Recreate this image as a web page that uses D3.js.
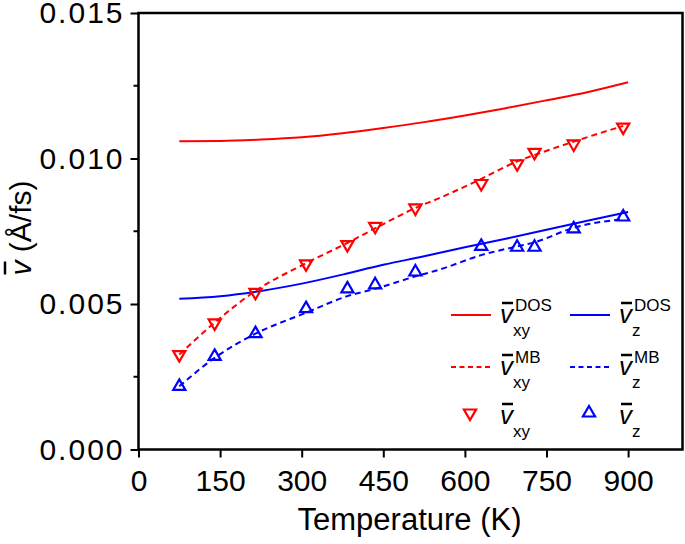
<!DOCTYPE html>
<html>
<head>
	<meta charset="utf-8">
	<title>velocity vs temperature</title>
	<script src="https://d3js.org/d3.v7.min.js"></script>
	<style>
		body { margin: 0; background: #fff; }
		text { font-family: 'Liberation Sans', Arial, sans-serif; }
	</style>
</head>
<body>
	<div class="chart"></div>

	<script type="text/javascript">
		// 模拟点（三角形）
		const ptTemps = [75, 140, 215, 308, 384, 435, 509, 630, 696, 728, 800, 891]
		const vxyPts = [0.00326, 0.00435, 0.00540, 0.00638, 0.00704, 0.00767, 0.00830, 0.00914, 0.00982, 0.01021, 0.01050, 0.01108]
		const vzPts = [0.00217, 0.00320, 0.00398, 0.00484, 0.00552, 0.00566, 0.00610, 0.00698, 0.00695, 0.00695, 0.00758, 0.00799]

		// DOS 曲线（实线）
		const dosTemps = [75, 150, 225, 300, 375, 450, 525, 600, 675, 750, 825, 900]
		const vxyDos = [0.01059, 0.01060, 0.01065, 0.01073, 0.01087, 0.01105, 0.01125, 0.01148, 0.01173, 0.01200, 0.01228, 0.01262]
		const vzDos = [0.00518, 0.00527, 0.00545, 0.00570, 0.00601, 0.00635, 0.00664, 0.00695, 0.00724, 0.00755, 0.00786, 0.00816]

		// MB 曲线（虚线）
		const mbTemps = [75, 140, 215, 308, 384, 435, 509, 553, 630, 696, 728, 800, 891]
		const vxyMb = [0.00326, 0.00436, 0.00545, 0.00640, 0.00710, 0.00760, 0.00830, 0.00864, 0.00930, 0.00990, 0.01012, 0.01058, 0.01112]
		const vzMb = [0.00217, 0.00315, 0.00398, 0.00470, 0.00527, 0.00552, 0.00595, 0.00618, 0.00668, 0.00698, 0.00712, 0.00762, 0.00792]

		const xTicks = [0, 150, 300, 450, 600, 750, 900]
		const yTicks = [0, 0.005, 0.010, 0.015]
		const yMinor = [0.0025, 0.0075, 0.0125]

		var width = 685
		var height = 544
		var pLeft = 138.5, pRight = 682.5, pTop = 13, pBottom = 449.5

		var svg = d3
			.select('.chart')
			.append('svg')
			.attr('width', width)
			.attr('height', height)

		const x = d3.scaleLinear().domain([0, 1000]).range([pLeft, pRight])
		const y = d3.scaleLinear().domain([0, 0.015]).range([pBottom, pTop])

		const red = '#ff0000'
		const blue = '#0000ff'

		/**
		 * 坐标轴
		 */
		const xAxis = svg.append('g')
			.attr('transform', `translate(0, ${pBottom})`)
			.call(d3.axisBottom(x).tickValues(xTicks).tickSize(8).tickPadding(12).tickSizeOuter(0))
		const yAxis = svg.append('g')
			.attr('transform', `translate(${pLeft}, 0)`)
			.call(d3.axisLeft(y).tickValues(yTicks).tickFormat(d3.format('.3f')).tickSize(8).tickPadding(8).tickSizeOuter(0))

		svg.append('g')
			.selectAll('line')
			.data(yMinor)
			.join('line')
			.attr('x1', pLeft - 5)
			.attr('x2', pLeft)
			.attr('y1', (d) => y(d))
			.attr('y2', (d) => y(d))
			.attr('stroke', '#000')
			.attr('stroke-width', 2)

		;[xAxis, yAxis].forEach((g) => {
			g.select('.domain').remove()
			g.selectAll('.tick line').attr('stroke', '#000').attr('stroke-width', 2)
			g.selectAll('.tick text')
				.attr('fill', '#000')
				.style('font-size', '30px')
				.style('font-family', "'Liberation Sans', Arial, sans-serif")
		})
		// y 轴刻度文字略宽
		yAxis.selectAll('.tick text').style('letter-spacing', '2px').attr('dx', 2)

		// 边框
		svg.append('rect')
			.attr('x', pLeft)
			.attr('y', pTop)
			.attr('width', pRight - pLeft)
			.attr('height', pBottom - pTop)
			.attr('fill', 'none')
			.attr('stroke', '#000')
			.attr('stroke-width', 2.5)

		svg.append('text')
			.attr('x', (pLeft + pRight) / 2 - 1)
			.attr('y', 530)
			.attr('text-anchor', 'middle')
			.style('font-size', '31px')
			.text('Temperature (K)')

		// y 轴标题
		const yl = svg.append('g').attr('transform', 'translate(31, 228) rotate(-90)')
		const ylText = yl.append('text')
			.attr('text-anchor', 'middle')
			.style('font-size', '30px')
		ylText.append('tspan').style('font-style', 'italic').text('v')
		ylText.append('tspan').text(' (Å/fs)')
		const ylW = ylText.node().getComputedTextLength()
		yl.append('line')
			.attr('x1', -ylW / 2 + 1)
			.attr('x2', -ylW / 2 + 14)
			.attr('y1', -26)
			.attr('y2', -26)
			.attr('stroke', '#000')
			.attr('stroke-width', 2.5)

		/**
		 * 曲线
		 */
		const line = d3.line()
			.x((d) => x(d[0]))
			.y((d) => y(d[1]))
			.curve(d3.curveMonotoneX)

		const series = [
			{ t: dosTemps, v: vxyDos, color: red, dash: null },
			{ t: dosTemps, v: vzDos, color: blue, dash: null },
			{ t: mbTemps, v: vxyMb, color: red, dash: '6,4' },
			{ t: mbTemps, v: vzMb, color: blue, dash: '6,4' }
		]

		svg.append('g')
			.selectAll('path')
			.data(series)
			.join('path')
			.attr('d', (s) => line(s.t.map((t, i) => [t, s.v[i]])))
			.attr('fill', 'none')
			.attr('stroke', (s) => s.color)
			.attr('stroke-width', 2)
			.attr('stroke-dasharray', (s) => s.dash)

		const tri = d3.symbol().type(d3.symbolTriangle).size(64)

		svg.append('g')
			.selectAll('path')
			.data(ptTemps)
			.join('path')
			.attr('d', tri)
			.attr('transform', (d, i) => `translate(${x(d)}, ${y(vxyPts[i])}) rotate(180)`)
			.attr('fill', 'none')
			.attr('stroke', red)
			.attr('stroke-width', 2.2)

		svg.append('g')
			.selectAll('path')
			.data(ptTemps)
			.join('path')
			.attr('d', tri)
			.attr('transform', (d, i) => `translate(${x(d)}, ${y(vzPts[i])})`)
			.attr('fill', 'none')
			.attr('stroke', blue)
			.attr('stroke-width', 2.2)

		/**
		 * 图例
		 */
		const legend = svg.append('g')

		function vLabel(px, py, sup, sub) {
			const g = legend.append('g').attr('transform', `translate(${px}, ${py})`)
			g.append('text').style('font-size', '26px').style('font-style', 'italic').text('v')
			g.append('line')
				.attr('x1', 2).attr('x2', 13)
				.attr('y1', -20).attr('y2', -20)
				.attr('stroke', '#000').attr('stroke-width', 2.5)
			if (sup) g.append('text').attr('x', 15).attr('y', -12).style('font-size', '17px').text(sup)
			g.append('text').attr('x', 13).attr('y', 13).style('font-size', '17px').text(sub)
		}

		const rows = [323, 375, 424]
		const cols = [{ lx: 451, tx: 500, color: red, sub: 'xy' }, { lx: 570, tx: 619, color: blue, sub: 'z' }]

		cols.forEach((c, ci) => {
			legend.append('line')
				.attr('x1', c.lx).attr('x2', c.lx + 40)
				.attr('y1', rows[0] - 8).attr('y2', rows[0] - 8)
				.attr('stroke', c.color).attr('stroke-width', 2)
			legend.append('line')
				.attr('x1', c.lx).attr('x2', c.lx + 40)
				.attr('y1', rows[1] - 8).attr('y2', rows[1] - 8)
				.attr('stroke', c.color).attr('stroke-width', 2)
				.attr('stroke-dasharray', '5,3.5')
			legend.append('path')
				.attr('d', tri)
				.attr('transform', `translate(${c.lx + 19}, ${rows[2] - 11}) rotate(${ci === 0 ? 180 : 0})`)
				.attr('fill', 'none')
				.attr('stroke', c.color)
				.attr('stroke-width', 2.2)
			vLabel(c.tx, rows[0], 'DOS', c.sub)
			vLabel(c.tx, rows[1], 'MB', c.sub)
			vLabel(c.tx, rows[2], null, c.sub)
		})
	</script>
</body>
</html>
